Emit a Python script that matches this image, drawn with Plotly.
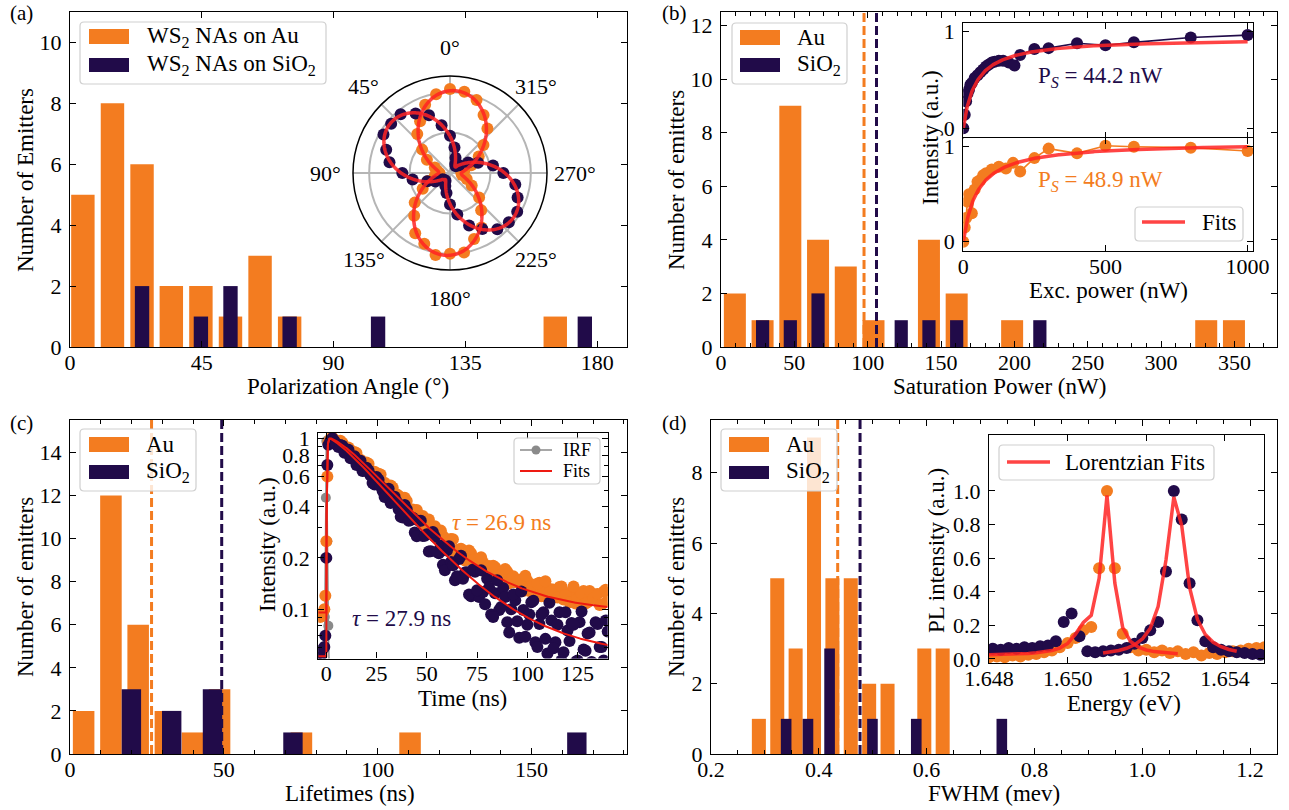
import numpy as np
import plotly.graph_objects as go

W, H = 1289, 810
SERIF = "Liberation Serif, Times New Roman, serif"
ORANGE = "#f37c20"
NAVY = "#210b49"
FIT_RED = "rgba(255,35,35,0.85)"
THIN_RED = "#ee1a12"
GREY = "#8a8a8a"
FS = 23
TFS = 22

# ---------------- (a) polarization angle histogram ----------------
pol_au_centers = [4.4, 14.5, 24.6, 34.6, 44.7, 54.8, 64.9, 75.0, 165.7]
pol_au_counts = [5, 8, 6, 2, 2, 1, 3, 1, 1]
pol_sio2_centers = [24.6, 44.7, 54.8, 75.0, 105.2, 175.8]
pol_sio2_counts = [2, 1, 2, 1, 1, 1]

# polar inset: normalised PL intensity vs polarizer angle (deg)
polar_theta = list(range(0, 360, 10))
polar_au_r = [1.04, 0.99, 0.90, 0.74, 0.63, 0.45, 0.33, 0.20, 0.16, 0.13,
              0.19, 0.29, 0.39, 0.57, 0.69, 0.86, 0.93, 1.03, 1.00, 1.00,
              0.87, 0.78, 0.60, 0.47, 0.31, 0.22, 0.15, 0.14, 0.18, 0.28,
              0.41, 0.54, 0.72, 0.83, 0.96, 1.02]
polar_sio2_r = [0.46, 0.60, 0.76, 0.85, 0.95, 0.95, 0.95, 0.84, 0.76, 0.59,
                0.47, 0.30, 0.21, 0.12, 0.11, 0.11, 0.17, 0.25, 0.39, 0.52,
                0.69, 0.80, 0.91, 0.95, 0.96, 0.89, 0.82, 0.66, 0.54, 0.37,
                0.26, 0.15, 0.11, 0.13, 0.20, 0.32]
polar_tick_labels = ["0°", "45°", "90°", "135°", "180°", "225°", "270°", "315°"]
# cos^2 fit parameters (amplitude, offset, orientation in deg)
au_pol_fit = (0.88, 0.14, -3.0)
sio2_pol_fit = (0.86, 0.10, 50.0, 235.0)

# ---------------- (b) saturation power histogram ----------------
sat_au_centers = [9.45, 28.35, 47.25, 66.15, 85.05, 103.95, 141.75, 160.65, 198.45, 330.75, 349.65]
sat_au_counts = [2, 1, 9, 4, 3, 1, 4, 2, 1, 1, 1]
sat_sio2_centers = [28.35, 47.25, 66.15, 122.85, 141.75, 160.65, 217.35]
sat_sio2_counts = [1, 1, 2, 1, 1, 1, 1]
sat_mean_au, sat_mean_sio2 = 97.5, 106.0

# saturation curves (inset)
sat_power_sio2 = [0, 5, 10, 15, 20, 25, 30, 40, 50, 60, 70, 80, 90, 100, 110, 125,
                  140, 160, 180, 200, 250, 300, 400, 500, 600, 800, 1000]
sat_int_sio2 = [0.0, 0.14, 0.28, 0.36, 0.40, 0.45, 0.47, 0.52, 0.55, 0.58, 0.61, 0.64,
                0.66, 0.68, 0.69, 0.70, 0.70, 0.68, 0.65, 0.76, 0.82, 0.83, 0.88, 0.86,
                0.89, 0.94, 0.965]
sat_power_au = [0, 5, 10, 15, 20, 30, 40, 50, 60, 70, 80, 100, 125, 150, 175, 200,
                250, 300, 400, 500, 600, 800, 1000]
sat_int_au = [0.0, 0.15, 0.25, 0.42, 0.50, 0.30, 0.55, 0.63, 0.65, 0.70, 0.72, 0.76,
              0.79, 0.77, 0.83, 0.74, 0.88, 0.98, 0.93, 1.01, 1.00, 0.99, 0.955]
ps_sio2, ps_au = 44.2, 48.9
isat_sio2, isat_au = 0.936, 1.049

# ---------------- (c) lifetime histogram ----------------
life_au_centers = [4.43, 13.3, 22.15, 31.0, 39.8, 48.6, 75.2, 110.5]
life_au_counts = [2, 12, 6, 2, 1, 3, 1, 1]
life_sio2_centers = [19.95, 33.05, 46.3, 72.45, 164.7]
life_sio2_counts = [3, 2, 3, 1, 1]
life_mean_au, life_mean_sio2 = 26.5, 49.3

# TCSPC decay traces (inset): early points + even-ns bins, then odd-ns bins
tcspc_t = [-4, -3, -2, -1, -0.5, 0, 0.5, 1] + list(range(2, 141, 2))
tcspc_au = [0.092, 0.09, 0.095, 0.10, 0.12, 0.25, 0.60, 0.95,
            1.00, 0.99, 0.933, 0.946, 0.855, 0.86, 0.836, 0.75, 0.727, 0.725,
            0.634, 0.639, 0.622, 0.549, 0.536, 0.532, 0.461, 0.463, 0.425, 0.431,
            0.367, 0.377, 0.347, 0.352, 0.304, 0.305, 0.307, 0.261, 0.269, 0.250,
            0.258, 0.215, 0.224, 0.221, 0.197, 0.213, 0.188, 0.173, 0.188, 0.176,
            0.163, 0.176, 0.150, 0.158, 0.166, 0.144, 0.144, 0.149, 0.128, 0.147,
            0.137, 0.126, 0.143, 0.126, 0.117, 0.131, 0.125, 0.135, 0.114, 0.119,
            0.127, 0.108, 0.120, 0.128, 0.110, 0.116, 0.122, 0.106, 0.127, 0.113]
tcspc_sio2 = [0.055, 0.052, 0.058, 0.06, 0.07, 0.20, 0.70, 0.92,
              0.973, 0.968, 0.893, 0.908, 0.832, 0.768, 0.790, 0.705, 0.647, 0.676,
              0.608, 0.538, 0.574, 0.494, 0.490, 0.420, 0.457, 0.386, 0.345, 0.386,
              0.333, 0.282, 0.330, 0.269, 0.275, 0.219, 0.266, 0.213, 0.182, 0.221,
              0.189, 0.148, 0.197, 0.151, 0.165, 0.119, 0.166, 0.118, 0.126, 0.151,
              0.093, 0.124, 0.099, 0.133, 0.084, 0.100, 0.113, 0.068, 0.099, 0.081,
              0.110, 0.064, 0.082, 0.096, 0.055, 0.086, 0.064, 0.096, 0.056, 0.075,
              0.083, 0.049, 0.084, 0.058, 0.072, 0.049, 0.084, 0.060, 0.050, 0.074]
tcspc_t_odd = list(range(3, 140, 2))
tcspc_au_odd = [1.016, 0.939, 0.972, 0.891, 0.888, 0.791, 0.824, 0.753, 0.695, 0.712,
                0.637, 0.586, 0.617, 0.551, 0.491, 0.518, 0.472, 0.429, 0.451, 0.377,
                0.384, 0.382, 0.325, 0.334, 0.336, 0.286, 0.265, 0.289, 0.261, 0.233,
                0.257, 0.222, 0.226, 0.193, 0.221, 0.194, 0.180, 0.202, 0.166, 0.179,
                0.180, 0.156, 0.159, 0.172, 0.142, 0.156, 0.146, 0.137, 0.157, 0.128,
                0.139, 0.141, 0.119, 0.146, 0.125, 0.130, 0.117, 0.136, 0.121, 0.110,
                0.136, 0.114, 0.123, 0.108, 0.128, 0.116, 0.123, 0.107, 0.130]
tcspc_sio2_odd = [1.006, 0.921, 0.919, 0.827, 0.862, 0.772, 0.702, 0.743, 0.649, 0.651,
                  0.549, 0.597, 0.526, 0.455, 0.509, 0.426, 0.427, 0.348, 0.409, 0.330,
                  0.344, 0.268, 0.330, 0.270, 0.218, 0.284, 0.217, 0.236, 0.169, 0.234,
                  0.181, 0.156, 0.206, 0.164, 0.122, 0.171, 0.129, 0.169, 0.107, 0.134,
                  0.090, 0.148, 0.103, 0.118, 0.073, 0.122, 0.085, 0.127, 0.069, 0.093,
                  0.112, 0.060, 0.093, 0.067, 0.109, 0.059, 0.081, 0.050, 0.096, 0.065,
                  0.081, 0.050, 0.097, 0.057, 0.073, 0.046, 0.082, 0.060, 0.086]
irf_t = [-2, -1.5, -1, -0.75, -0.5, -0.25, 0, 0.25, 0.5, 1, 1.5, 2]
irf_counts = [0.02, 0.03, 0.06, 0.09, 0.20, 0.45, 0.97, 0.60, 0.25, 0.08, 0.04, 0.02]
tau_au, tau_sio2 = 26.9, 27.9

# ---------------- (d) linewidth histogram ----------------
fwhm_au_centers = [0.2888, 0.3229, 0.3570, 0.3911, 0.4252, 0.4593, 0.4934, 0.5275, 0.5957, 0.6298]
fwhm_au_counts = [1, 5, 3, 9, 5, 5, 2, 2, 3, 3]
fwhm_sio2_centers = [0.3394, 0.3799, 0.4200, 0.4995, 0.5808, 0.7395]
fwhm_sio2_counts = [1, 1, 3, 1, 1, 1]
fwhm_mean_au, fwhm_mean_sio2 = 0.435, 0.4765

# PL spectra (inset)
spec_e_au = [round(1.6480 + 0.0002 * k, 4) for k in range(36)]
spec_au = [0.01, 0.015, 0.01, 0.02, 0.015, 0.025, 0.03, 0.04, 0.05, 0.07,
           0.095, 0.125, 0.17, 0.19, 0.54, 1.00, 0.54, 0.15, 0.07, 0.05,
           0.055, 0.04, 0.05, 0.035, 0.045, 0.03, 0.04, 0.02, 0.035, 0.03,
           0.04, 0.045, 0.05, 0.06, 0.065, 0.07]
spec_e_sio2 = [round(1.6481 + 0.0002 * k, 4) for k in range(35)]
spec_sio2 = [0.06, 0.055, 0.065, 0.06, 0.07, 0.065, 0.075, 0.08, 0.105, 0.22,
             0.27, 0.135, 0.045, 0.04, 0.045, 0.05, 0.055, 0.065, 0.09, 0.125,
             0.17, 0.22, 0.52, 1.00, 0.83, 0.45, 0.23, 0.105, 0.07, 0.055,
             0.045, 0.04, 0.035, 0.03, 0.025]
# Lorentzian fit parameters: (centre eV, half width eV, amplitude)
lor_au_main = (1.6510, 0.00018, 0.93)
lor_au_side = (1.6504, 0.00030, 0.12)
lor_au_bg = 0.02
lor_sio2 = (1.65275, 0.00030, 0.98)
lor_sio2_bg = 0.01


def fx(px):
    return px / W


def fy(py):
    return 1 - py / H


fig = go.Figure()


def add_bars(centers, counts, width, color, xa, ya):
    fig.add_trace(go.Bar(x=centers, y=counts, width=width, marker=dict(color=color, line=dict(width=0)),
                         xaxis=xa, yaxis=ya, showlegend=False))


def add_vline(xv, ymax, color, xa, ya):
    fig.add_trace(go.Scatter(x=[xv, xv], y=[0, ymax], mode="lines",
                             line=dict(color=color, width=3, dash="9px,4px"),
                             xaxis=xa, yaxis=ya, showlegend=False))


# (a)
add_bars(pol_au_centers, pol_au_counts, 8.0, ORANGE, "x", "y")
add_bars(pol_sio2_centers, pol_sio2_counts, 4.9, NAVY, "x", "y")

# (b)
add_bars(sat_au_centers, sat_au_counts, 15.0, ORANGE, "x2", "y2")
add_bars(sat_sio2_centers, sat_sio2_counts, 9.0, NAVY, "x2", "y2")
add_vline(sat_mean_au, 12.5, ORANGE, "x2", "y2")
add_vline(sat_mean_sio2, 12.5, NAVY, "x2", "y2")

# (c)
add_bars(life_au_centers, life_au_counts, 7.0, ORANGE, "x3", "y3")
add_bars(life_sio2_centers, life_sio2_counts, 6.3, NAVY, "x3", "y3")
add_vline(life_mean_au, 15.5, ORANGE, "x3", "y3")
add_vline(life_mean_sio2, 15.5, NAVY, "x3", "y3")

# (d)
add_bars(fwhm_au_centers, fwhm_au_counts, 0.026, ORANGE, "x4", "y4")
add_bars(fwhm_sio2_centers, fwhm_sio2_counts, 0.0197, NAVY, "x4", "y4")
add_vline(fwhm_mean_au, 9.5, ORANGE, "x4", "y4")
add_vline(fwhm_mean_sio2, 9.5, NAVY, "x4", "y4")

# (b) inset: saturation curves with fits
p_fit = np.linspace(0, 1000, 400)
fig.add_trace(go.Scatter(x=sat_power_sio2, y=sat_int_sio2, mode="lines+markers",
                         line=dict(color=NAVY, width=1.6), marker=dict(color=NAVY, size=12),
                         xaxis="x5", yaxis="y5", showlegend=False))
fig.add_trace(go.Scatter(x=p_fit, y=isat_sio2 * p_fit / (p_fit + ps_sio2), mode="lines",
                         line=dict(color=FIT_RED, width=3.5), xaxis="x5", yaxis="y5", showlegend=False))
fig.add_trace(go.Scatter(x=sat_power_au, y=sat_int_au, mode="lines+markers",
                         line=dict(color=ORANGE, width=1.6), marker=dict(color=ORANGE, size=12),
                         xaxis="x6", yaxis="y6", showlegend=False))
fig.add_trace(go.Scatter(x=p_fit, y=isat_au * p_fit / (p_fit + ps_au), mode="lines",
                         line=dict(color=FIT_RED, width=3.5), xaxis="x6", yaxis="y6", showlegend=False))

# (c) inset: decay traces with IRF-broadened exponential fits
t_fit = np.linspace(-4, 140, 1153)


def decay_fit(t, amp, tau, frac, tau_fast, bg):
    s = np.clip(t, 0, None)
    rise = 1 - np.exp(-s / 0.35)
    body = amp * (np.exp(-s / tau) - frac * np.exp(-s / tau_fast)) * rise
    return np.where(t < 0, bg, bg + body)


fig.add_trace(go.Scatter(x=irf_t, y=irf_counts, mode="lines+markers",
                         line=dict(color=GREY, width=1.5), marker=dict(color=GREY, size=10),
                         xaxis="x7", yaxis="y7", showlegend=False))
fig.add_trace(go.Scatter(x=tcspc_t + tcspc_t_odd, y=tcspc_au + tcspc_au_odd, mode="markers",
                         marker=dict(color=ORANGE, size=12), xaxis="x7", yaxis="y7", showlegend=False))
fig.add_trace(go.Scatter(x=tcspc_t + tcspc_t_odd, y=tcspc_sio2 + tcspc_sio2_odd, mode="markers",
                         marker=dict(color=NAVY, size=12), xaxis="x7", yaxis="y7", showlegend=False))
fig.add_trace(go.Scatter(x=t_fit, y=decay_fit(t_fit, 1.379, tau_au, 0.326, 10.0, 0.0955), mode="lines",
                         line=dict(color=THIN_RED, width=2), xaxis="x7", yaxis="y7", showlegend=False))
fig.add_trace(go.Scatter(x=t_fit, y=decay_fit(t_fit, 1.316, tau_sio2, 0.255, 10.0, 0.053), mode="lines",
                         line=dict(color=THIN_RED, width=2), xaxis="x7", yaxis="y7", showlegend=False))


# (d) inset: PL spectra with Lorentzian fits
def lorentz(e, centre, hw, amp):
    return amp / (1 + ((e - centre) / hw) ** 2)


e_au_fit = np.array([e for e in spec_e_au if e <= 1.6528])
e_sio2_fit = np.array([e for e in spec_e_sio2 if 1.6509 <= e <= 1.6543])
fig.add_trace(go.Scatter(x=spec_e_au, y=spec_au, mode="markers", marker=dict(color=ORANGE, size=12),
                         xaxis="x8", yaxis="y8", showlegend=False))
fig.add_trace(go.Scatter(x=spec_e_sio2, y=spec_sio2, mode="markers", marker=dict(color=NAVY, size=12),
                         xaxis="x8", yaxis="y8", showlegend=False))
fig.add_trace(go.Scatter(x=e_au_fit, y=lorentz(e_au_fit, *lor_au_main) + lorentz(e_au_fit, *lor_au_side) + lor_au_bg,
                         mode="lines", line=dict(color=FIT_RED, width=3.5), xaxis="x8", yaxis="y8", showlegend=False))
fig.add_trace(go.Scatter(x=e_sio2_fit, y=lorentz(e_sio2_fit, *lor_sio2) + lor_sio2_bg,
                         mode="lines", line=dict(color=FIT_RED, width=3.5), xaxis="x8", yaxis="y8", showlegend=False))

# (a) inset: polar plot
th = np.arange(0, 361, 1.0)
amp, off, ang = au_pol_fit
au_fit_r = amp * np.cos(np.radians(th - ang)) ** 2 + off
amp2, off2, ang_up, ang_low = sio2_pol_fit
lower = (th >= 135) & (th < 315)
sio2_fit_r = np.where(lower, amp2 * np.cos(np.radians(th - ang_low)) ** 2 + off2,
                      amp2 * np.cos(np.radians(th - ang_up)) ** 2 + off2)
fig.add_trace(go.Scatterpolar(r=polar_au_r, theta=polar_theta, mode="markers",
                              marker=dict(color=ORANGE, size=12), showlegend=False))
fig.add_trace(go.Scatterpolar(r=polar_sio2_r, theta=polar_theta, mode="markers",
                              marker=dict(color=NAVY, size=12), showlegend=False))
fig.add_trace(go.Scatterpolar(r=au_fit_r, theta=th, mode="lines",
                              line=dict(color=FIT_RED, width=3.5), showlegend=False))
fig.add_trace(go.Scatterpolar(r=sio2_fit_r, theta=th, mode="lines",
                              line=dict(color=FIT_RED, width=3.5), showlegend=False))

TICKFONT = dict(family=SERIF, size=TFS, color="black")


def ax(**kw):
    base = dict(showline=True, linecolor="black", linewidth=1.3, mirror="allticks", ticks="inside",
                ticklen=6, tickwidth=1.2, tickcolor="black", showgrid=False, zeroline=False,
                tickfont=TICKFONT, ticklabelstandoff=-5, automargin=False)
    base.update(kw)
    return base


def yax(**kw):
    kw.setdefault("ticklabelstandoff", 3)
    return ax(**kw)


MINOR = dict(ticks="inside", ticklen=3.5, tickwidth=1.0, tickcolor="black", showgrid=False)
top_main = [fy(347), fy(12)]
bot_main = [fy(754), fy(420)]
POLAR_CX, POLAR_CY, POLAR_R = 450, 173, 97

layout = dict(
    width=W, height=H, margin=dict(l=0, r=0, t=0, b=0, autoexpand=False),
    paper_bgcolor="white", plot_bgcolor="white", barmode="overlay", showlegend=False,
    font=dict(family=SERIF, size=FS, color="black"),
    xaxis=ax(domain=[fx(70), fx(627)], range=[0, 190.2], tickvals=[0, 45, 90, 135, 180], anchor="y"),
    yaxis=yax(domain=top_main, range=[0, 11], dtick=2, anchor="x"),
    xaxis2=ax(domain=[fx(721), fx(1277)], range=[0, 379], dtick=50, minor=dict(dtick=10, **MINOR), anchor="y2"),
    yaxis2=yax(domain=top_main, range=[0, 12.5], dtick=2, anchor="x2"),
    xaxis3=ax(domain=[fx(70), fx(627)], range=[0, 181], dtick=50, minor=dict(dtick=10, **MINOR), anchor="y3"),
    yaxis3=yax(domain=bot_main, range=[0, 15.5], dtick=2, anchor="x3"),
    xaxis4=ax(domain=[fx(711), fx(1277)], range=[0.2, 1.25], tick0=0.2, dtick=0.2, tickformat=".1f",
              minor=dict(tick0=0.2, dtick=0.05, **MINOR), anchor="y4"),
    yaxis4=yax(domain=bot_main, range=[0, 9.5], dtick=2, anchor="x4"),
    xaxis5=ax(domain=[fx(963.3), fx(1253.3)], range=[0, 1020], tickvals=[0, 500, 1000],
              showticklabels=False, anchor="y5"),
    yaxis5=yax(domain=[fy(137.7), fy(23.3)], range=[-0.097, 1.087], tickvals=[0, 1], anchor="x5"),
    xaxis6=ax(domain=[fx(963.3), fx(1253.3)], range=[0, 1020], tickvals=[0, 500, 1000], anchor="y6"),
    yaxis6=yax(domain=[fy(251), fy(137.7)], range=[-0.098, 1.095], tickvals=[0, 1], anchor="x6"),
    xaxis7=ax(domain=[fx(318.3), fx(607.7)], range=[-4, 140], tick0=0, dtick=25, anchor="y7"),
    yaxis7=yax(domain=[fy(658.5), fy(433)], type="log", range=[np.log10(0.0514), np.log10(1.08)],
               tickvals=[0.1, 0.2, 0.4, 0.6, 0.8, 1.0], ticktext=["0.1", "0.2", "0.4", "0.6", "0.8", "1"],
               minor=dict(tickvals=[0.06, 0.07, 0.08, 0.09, 0.3, 0.5, 0.7, 0.9], **MINOR), anchor="x7"),
    xaxis8=ax(domain=[fx(989), fx(1264.3)], range=[1.648, 1.655], tickvals=[1.648, 1.650, 1.652, 1.654],
              ticktext=["1.648", "1.650", "1.652", "1.654"], anchor="y8"),
    yaxis8=yax(domain=[fy(663.3), fy(435)], range=[-0.026, 1.333], tickvals=[0, 0.2, 0.4, 0.6, 0.8, 1.0],
               tickformat=".1f", anchor="x8"),
    polar=dict(
        domain=dict(x=[fx(POLAR_CX - POLAR_R), fx(POLAR_CX + POLAR_R)],
                    y=[fy(POLAR_CY + POLAR_R), fy(POLAR_CY - POLAR_R)]),
        bgcolor="white",
        radialaxis=dict(range=[0, 1.2], tickvals=[0.5, 1.0], showticklabels=False, ticks="",
                        showline=False, gridcolor="#b5b5b5", gridwidth=1.5),
        angularaxis=dict(rotation=90, direction="counterclockwise", dtick=45, showticklabels=False,
                         gridcolor="#b5b5b5", gridwidth=1.5, showline=True, linecolor="black",
                         linewidth=1.5, ticks=""),
    ),
)

shapes = []
annotations = []


def text(px, py, s, size=FS, color="black", xanchor="center", yanchor="middle", angle=0):
    annotations.append(dict(x=fx(px), y=fy(py), xref="paper", yref="paper", text=s, showarrow=False,
                            xanchor=xanchor, yanchor=yanchor, textangle=angle,
                            font=dict(family=SERIF, size=size, color=color)))


def legend_box(x0, y0, x1, y1, r=4):
    rx, ry = r / W, r / H
    X0, X1, Y0, Y1 = fx(x0), fx(x1), fy(y0), fy(y1)
    path = (f"M{X0 + rx},{Y0} L{X1 - rx},{Y0} Q{X1},{Y0} {X1},{Y0 - ry} "
            f"L{X1},{Y1 + ry} Q{X1},{Y1} {X1 - rx},{Y1} L{X0 + rx},{Y1} Q{X0},{Y1} {X0},{Y1 + ry} "
            f"L{X0},{Y0 - ry} Q{X0},{Y0} {X0 + rx},{Y0} Z")
    shapes.append(dict(type="path", path=path, xref="paper", yref="paper", layer="above",
                       fillcolor="rgba(255,255,255,0.8)", line=dict(color="#cfcfcf", width=1.2)))


def patch(x0, y0, x1, y1, color):
    shapes.append(dict(type="rect", x0=fx(x0), x1=fx(x1), y0=fy(y1), y1=fy(y0), xref="paper", yref="paper",
                       layer="above", fillcolor=color, line=dict(width=0)))


def hline(x0, x1, py, color, width):
    shapes.append(dict(type="line", x0=fx(x0), x1=fx(x1), y0=fy(py), y1=fy(py), xref="paper", yref="paper",
                       layer="above", line=dict(color=color, width=width)))


# polar angle labels, placed around the circle on each 45° spoke
for k, lab in enumerate(polar_tick_labels):
    a = np.radians(45 * k)
    rad = 122 if k % 2 else 125
    px = POLAR_CX - rad * np.sin(a)
    py = POLAR_CY - rad * np.cos(a)
    text(px, py, lab, size=TFS)

# histogram legends
legend_box(80, 22, 326, 84)
patch(89, 29, 129, 44, ORANGE)
patch(89, 58, 129, 72, NAVY)
text(145, 36.5, "WS<sub>2</sub> NAs on Au", xanchor="left")
text(145, 65, "WS<sub>2</sub> NAs on SiO<sub>2</sub>", xanchor="left")

legend_box(732, 23, 847, 84)
patch(740, 30, 780, 45, ORANGE)
patch(740, 58, 780, 72, NAVY)
text(795, 37, "Au", xanchor="left")
text(795, 65, "SiO<sub>2</sub>", xanchor="left")

legend_box(80, 429, 196, 491)
patch(89, 437, 129, 452, ORANGE)
patch(89, 465, 129, 479, NAVY)
text(144, 444, "Au", xanchor="left")
text(144, 472, "SiO<sub>2</sub>", xanchor="left")

legend_box(721, 429, 837, 491)
patch(729, 437, 769, 452, ORANGE)
patch(729, 466, 769, 479, NAVY)
text(784, 444, "Au", xanchor="left")
text(784, 472, "SiO<sub>2</sub>", xanchor="left")

# inset legends
legend_box(1135, 207, 1243, 241)
hline(1142, 1185, 222, FIT_RED, 3.5)
text(1200, 223, "Fits", xanchor="left")

legend_box(514, 438, 600, 484)
hline(520, 552, 450, GREY, 1.5)
shapes.append(dict(type="circle", x0=fx(531.5), x1=fx(540.5), y0=fy(454.5), y1=fy(445.5),
                   xref="paper", yref="paper", layer="above", fillcolor=GREY, line=dict(width=0)))
hline(520, 552, 471, THIN_RED, 2)
text(561, 450, "IRF", size=18, xanchor="left")
text(561, 471, "Fits", size=18, xanchor="left")

legend_box(999, 445, 1214, 480)
hline(1007, 1050, 462, FIT_RED, 3.5)
text(1063, 462, "Lorentzian Fits", xanchor="left")

# panel labels
text(21, 13, "(a)", size=21)
text(674, 13, "(b)", size=21)
text(21, 423, "(c)", size=21)
text(674, 423, "(d)", size=21)

# axis titles
text(348, 386, "Polarization Angle (°)")
text(25, 180, "Number of Emitters", angle=-90)
text(999, 386, "Saturation Power (nW)")
text(676, 180, "Number of emitters", angle=-90)
text(350, 793, "Lifetimes (ns)")
text(25, 587, "Number of emitters", angle=-90)
text(994, 793, "FWHM (mev)")
text(676, 587, "Number of emitters", angle=-90)

text(1108, 290, "Exc. power (nW)")
text(930, 138, "Intensity (a.u.)", angle=-90)
text(462, 698, "Time (ns)")
text(267, 545, "Intensity (a.u.)", angle=-90)
text(1124, 703, "Energy (eV)")
text(936, 551, "PL intensity (a.u.)", angle=-90)

# in-plot labels
text(1100, 77, f"P<sub><i>S</i></sub> = {ps_sio2} nW", color=NAVY)
text(1100, 181, f"P<sub><i>S</i></sub> = {ps_au} nW", color=ORANGE)
text(501, 522, f"<i>τ</i> = {tau_au} ns", color=ORANGE)
text(401, 618, f"<i>τ</i> = {tau_sio2} ns", color=NAVY)

layout["shapes"] = shapes
layout["annotations"] = annotations
fig.update_layout(**layout)
fig.write_html("out.html")
